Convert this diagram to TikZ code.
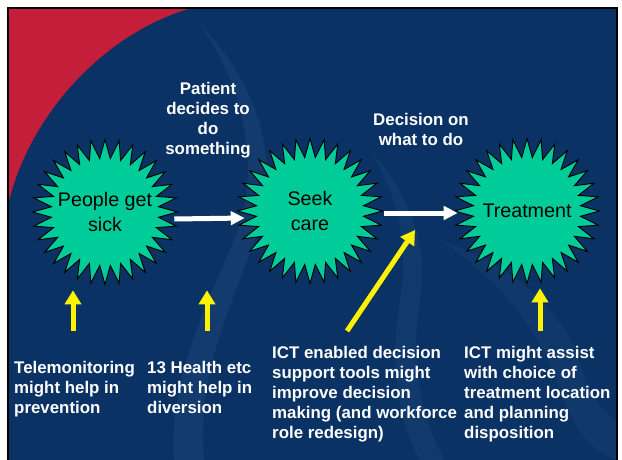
\documentclass[tikz,border=0pt]{standalone}
\usepackage{fontspec}
\setmainfont{Liberation Sans}
\usetikzlibrary{shapes.geometric,arrows.meta,positioning}
\definecolor{slideblue}{RGB}{10,50,100}
\definecolor{slidered}{RGB}{196,30,58}
\definecolor{stargreen}{RGB}{0,204,153}
\definecolor{waveblue}{RGB}{60,105,160}

\begin{document}
\begin{tikzpicture}[x=0.3mm, y=-0.3mm,
    burst/.style={star, star points=32, star point ratio=1.35, draw=black, line width=0.8pt, fill=stargreen, minimum size=43.5mm, inner sep=0pt},
    bursttext/.style={align=center, inner sep=0pt, font=\fontsize{16.8}{21}\selectfont},
    flow/.style={draw=white, line width=1.5mm, -{Triangle[length=4.2mm,width=4mm]}},
    hint/.style={draw=yellow, line width=1.5mm, -{Triangle[length=4.2mm,width=4.8mm]}},
    headtext/.style={text=white, inner sep=0pt, align=center, anchor=north, font=\bfseries\fontsize{14.4}{17.1}\selectfont},
    notetext/.style={text=white, inner sep=0pt, align=left, anchor=north west, font=\bfseries\fontsize{14.4}{17.1}\selectfont}]
    \useasboundingbox (0,0) rectangle (622,459);
    \clip (0,0) rectangle (622,459);

    % Slide background
    \fill[white] (0,0) rectangle (622,459);
    \fill[slideblue] (8,8) rectangle (617,470);
    \fill[waveblue, opacity=0.18] (200,25) .. controls (255,80) and (285,160) .. (255,240) .. controls (225,320) and (195,380) .. (205,470) -- (175,470) .. controls (165,380) and (210,300) .. (238,230) .. controls (262,160) and (240,80) .. (200,25) -- cycle;
    \fill[waveblue, opacity=0.15] (370,150) .. controls (405,190) and (430,240) .. (420,300) .. controls (410,360) and (420,420) .. (450,470) -- (425,470) .. controls (395,420) and (390,360) .. (400,300) .. controls (410,240) and (395,190) .. (370,150) -- cycle;
    \fill[waveblue, opacity=0.12] (440,240) .. controls (500,280) and (540,330) .. (560,390) .. controls (575,430) and (590,450) .. (617,460) -- (617,420) .. controls (595,410) and (585,380) .. (575,350) .. controls (555,300) and (500,260) .. (440,240) -- cycle;
    \fill[slidered] (8,8) -- (192,8) .. controls (110,30) and (30,110) .. (8,205) -- cycle;
    \draw[black, line width=0.7mm] (8,8) rectangle (617,470);

    % Steps
    \node[burst] (people) at (105,212) {};
    \node[burst] (seek) at (310,211) {};
    \node[burst] (treat) at (527,211) {};
    \node[bursttext] (peopletext) at (people) {People get\\sick};
    \node[bursttext] (seektext) at (seek) {Seek\\care};
    \node[bursttext] (treattext) at (treat) {Treatment};

    % Arrows between steps
    \draw[flow] ([xshift=-1.5mm, yshift=-2.1mm]people.east) -- ([xshift=2.7mm, yshift=-2.1mm]seek.west);
    \draw[flow] ([yshift=-0.6mm]seek.east) -- ([xshift=1.5mm, yshift=-0.6mm]treat.west);

    % Labels on arrows
    \node[headtext] (patient) at (208,82) {Patient\\decides to\\do\\something};
    \node[headtext] (decision) at (421,113) {Decision on\\what to do};

    % ICT notes
    \node[notetext] (tele) at (14,361) {Telemonitoring\\might help in\\prevention};
    \node[notetext] (health) at (147,361) {13 Health etc\\might help in\\diversion};
    \node[notetext] (support) at (272,346) {ICT enabled decision\\support tools might\\improve decision\\making (and workforce\\role redesign)};
    \node[notetext] (assist) at (464,346) {ICT might assist\\with choice of\\treatment location\\and planning\\disposition};

    % Yellow pointers
    \coordinate (tailA) at (73,331);
    \coordinate (tailB) at (207,331);
    \coordinate (tailC) at (347,331);
    \coordinate (tailD) at (540,331);
    \coordinate (choice) at (415,230);
    \draw[hint] (tailA) -- ([yshift=-1.2mm]tailA |- people.south);
    \draw[hint] (tailB) -- ([yshift=-1.2mm]tailB |- people.south);
    \draw[hint] (tailC) -- (choice);
    \draw[hint] (tailD) -- ([yshift=-0.9mm]tailD |- treat.south);
\end{tikzpicture}
\end{document}
